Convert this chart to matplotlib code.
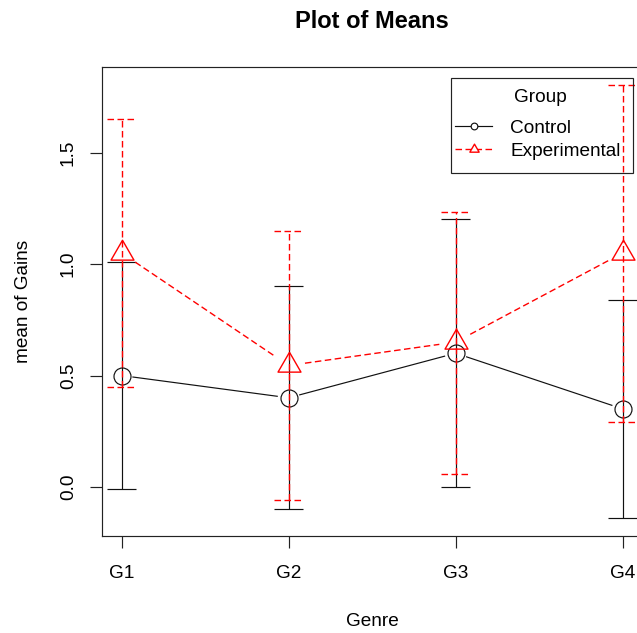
import matplotlib
matplotlib.use('Agg')
import matplotlib.pyplot as plt
import numpy as np
from matplotlib.path import Path
from matplotlib.lines import Line2D
from matplotlib.patches import Rectangle

plt.rcParams['font.family'] = ['Liberation Sans', 'DejaVu Sans']
plt.rcParams['lines.scale_dashes'] = False

# ---------------- data ----------------
genres = ['G1', 'G2', 'G3', 'G4']
groups = ['Control', 'Experimental']
control_mean = [0.50, 0.40, 0.60, 0.35]
control_lower = [-0.01, -0.10, 0.00, -0.14]
control_upper = [1.01, 0.90, 1.20, 0.84]
exp_mean = [1.05, 0.545, 0.65, 1.05]
exp_lower = [0.45, -0.06, 0.06, 0.29]
exp_upper = [1.65, 1.15, 1.235, 1.805]
yticks = [0.0, 0.5, 1.0, 1.5]
ytick_labels = ['0.0', '0.5', '1.0', '1.5']

# ---------------- layout ----------------
W, H = 637, 633
def fx(px):
    return px / W
def fy(py):
    return 1 - py / H

FS = 13.7
LW = 0.85
LW_RED = 1.0
RED = '#FF0000'
DASH = (0, (4.7, 2.5))

fig = plt.figure(figsize=(W / 100, H / 100), dpi=100)
ax = fig.add_axes([fx(101.5), fy(535.5), (642.8 - 101.5) / W, (535.5 - 67.3) / H])

x = np.arange(1, len(genres) + 1)
ax.set_xlim(1 - 0.04 * (len(genres) - 1), len(genres) + 0.04 * (len(genres) - 1))
lo = min(control_lower + exp_lower)
hi = max(control_upper + exp_upper)
ext = 0.04 * (hi - lo)
ax.set_ylim(lo - ext, hi + ext)

for s in ax.spines.values():
    s.set_linewidth(LW)
    s.set_color('#222222')

ax.set_xticks(x, genres)
ax.set_yticks(yticks, ytick_labels)
ax.tick_params(axis='both', direction='out', length=8.3, width=LW, labelsize=FS,
               color='#222222', labelcolor='black')
ax.tick_params(axis='x', pad=13.2)
ax.tick_params(axis='y', pad=9.5)
plt.setp(ax.get_yticklabels(), rotation=90, va='center')

# triangle marker (centroid-centred like R pch=2)
tri = Path([(0, 1), (-0.866, -0.5), (0.866, -0.5), (0, 1)],
           [Path.MOVETO, Path.LINETO, Path.LINETO, Path.CLOSEPOLY])

cap_half = 14.8 / 167.0  # half width of caps in x units


def gapped_line(xs, ys, gap_px, **kw):
    pts = ax.transData.transform(np.column_stack([xs, ys]))
    inv = ax.transData.inverted()
    for p0, p1 in zip(pts[:-1], pts[1:]):
        d = p1 - p0
        L = np.hypot(*d)
        u = d / L
        seg = inv.transform(np.array([p0 + u * gap_px, p1 - u * gap_px]))
        ax.plot(seg[:, 0], seg[:, 1], **kw)


def draw_group(means, lower, upper, color, ls, lw, marker, ms, gap):
    ax.vlines(x, lower, upper, colors=color, linestyles=ls, lw=lw)
    ax.hlines(lower, x - cap_half, x + cap_half, colors=color, linestyles=ls, lw=lw)
    ax.hlines(upper, x - cap_half, x + cap_half, colors=color, linestyles=ls, lw=lw)
    gapped_line(x, means, gap, color=color, ls=ls, lw=lw)
    ax.plot(x, means, ls='none', marker=marker, ms=ms, mfc='none', mec=color, mew=lw)


draw_group(control_mean, control_lower, control_upper, '#111111', '-', LW, 'o', 17 * 0.72, 11.5)
draw_group(exp_mean, exp_lower, exp_upper, RED, DASH, LW_RED, tri, 26.5 * 0.72, 16.5)

# ---------------- texts ----------------
fig.text(fx(372), fy(28.3), 'Plot of Means', ha='center', va='baseline',
         fontsize=17, fontweight='bold')
fig.text(fx(372), fy(626.5), 'Genre', ha='center', va='baseline', fontsize=FS)
fig.text(fx(28), fy(301.4), 'mean of Gains', rotation=90, rotation_mode='anchor',
         ha='center', va='baseline', fontsize=FS)

# ---------------- legend ----------------
fig.add_artist(Rectangle((fx(450.7), fy(173.3)), (632.7 - 450.7) / W, (173.3 - 77.7) / H,
                         transform=fig.transFigure, fill=False, lw=LW, ec='#222222'))
fig.text(fx(540.3), fy(102), 'Group', ha='center', va='baseline', fontsize=FS)
leg_y = [125.7, 149.3]
leg_base = [133, 156.3]
styles = [('#111111', '-', LW, 'o', 6.7 * 0.72), (RED, DASH, LW_RED, tri, 10.7 * 0.72)]
for name, yy, yb, (c, ls, lw, mk, ms) in zip(groups, leg_y, leg_base, styles):
    fig.add_artist(Line2D([fx(455), fx(492)], [fy(yy), fy(yy)], transform=fig.transFigure,
                          color=c, ls=ls, lw=lw))
    fig.add_artist(Line2D([fx(473.5)], [fy(yy)], transform=fig.transFigure, ls='none',
                          marker=mk, ms=ms, mfc='white', mec=c, mew=lw))
    fig.text(fx(510), fy(yb), name, ha='left', va='baseline', fontsize=FS)

fig.savefig('out.png', dpi=100)
